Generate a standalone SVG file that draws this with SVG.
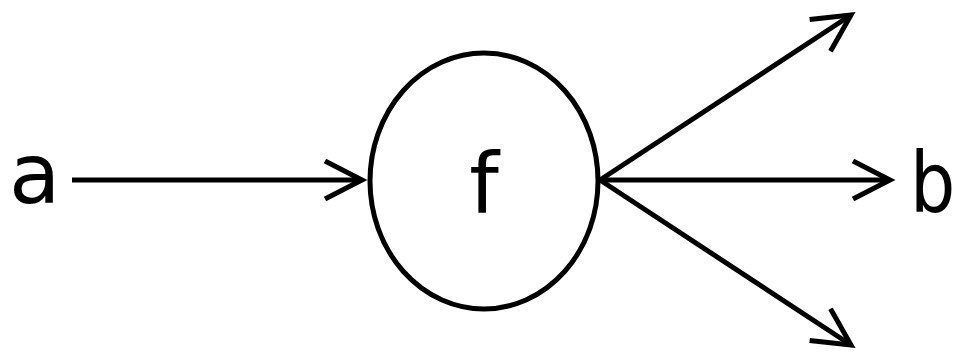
<svg xmlns="http://www.w3.org/2000/svg" width="954" height="353" viewBox="0 0 954 353">
<style>
.lbl{font-family:"DejaVu Sans","Liberation Sans",sans-serif;font-size:84px;fill:#000}
.edge{stroke:#000;stroke-width:5;fill:none}
</style>
<defs>
<marker id="arr" markerUnits="userSpaceOnUse" orient="auto" refX="0" refY="0" markerWidth="60" markerHeight="60" viewBox="-50 -30 60 60" overflow="visible">
<path d="M-37,-19 L0,0 L-37,19" fill="none" stroke="#000" stroke-width="5"/>
</marker>
</defs>
<rect width="954" height="353" fill="#fff"/>
<g id="node-a"><text class="lbl" x="9" y="203">a</text></g>
<g id="node-f">
<ellipse cx="484" cy="181" rx="114" ry="128" fill="#fff" stroke="#000" stroke-width="5"/>
<text class="lbl" x="484" y="213" text-anchor="middle">f</text>
</g>
<g id="node-b"><text class="lbl" x="0" y="0" transform="translate(910,212) scale(0.85,1)">b</text></g>
<g id="connectors">
<line class="edge" x1="72" y1="180" x2="362" y2="180" marker-end="url(#arr)"/>
<line class="edge" x1="600" y1="180" x2="851" y2="15" marker-end="url(#arr)"/>
<line class="edge" x1="600" y1="180" x2="890" y2="180" marker-end="url(#arr)"/>
<line class="edge" x1="600" y1="180" x2="851" y2="345" marker-end="url(#arr)"/>
</g>
</svg>
